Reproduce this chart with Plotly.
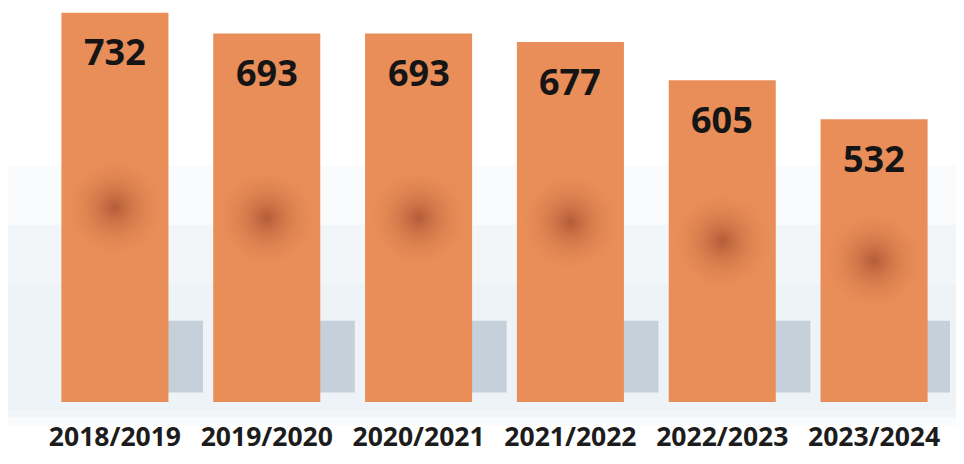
import plotly.graph_objects as go

seasons = ["2018/2019", "2019/2020", "2020/2021", "2021/2022", "2022/2023", "2023/2024"]
counts = [732, 693, 693, 677, 605, 532]

bar_color = "#E98E58"
label_font = dict(family="Open Sans", size=26.5, color="#1c1c1c")

fig = go.Figure()

# soft grey shadows falling behind the bars (to the right)
fig.add_trace(go.Bar(
    x=seasons,
    y=[135] * len(seasons),
    base=[18] * len(seasons),
    width=0.68,
    offset=-0.1,
    marker=dict(color="rgba(140,160,182,0.42)", line=dict(width=0)),
    hoverinfo="skip",
    showlegend=False,
))

fig.add_trace(go.Bar(
    x=seasons,
    y=counts,
    width=0.705,
    marker=dict(color=bar_color, line=dict(width=0)),
    showlegend=False,
))

# dark glow in the middle of each bar
fig.add_trace(go.Scatter(
    x=seasons,
    y=[c / 2 for c in counts],
    mode="markers",
    marker=dict(
        size=107,
        color="rgba(233,142,88,0)",
        gradient=dict(type="radial", color="rgba(145,58,36,0.6)"),
        line=dict(width=0),
    ),
    hoverinfo="skip",
    showlegend=False,
))

for s, c in zip(seasons, counts):
    fig.add_annotation(
        x=s, y=c, text=f"<b>{c}</b>", showarrow=False,
        yanchor="middle", yshift=-39,
        font=dict(family="Open Sans", size=36, color="#151515"),
    )

fig.update_layout(
    width=964,
    height=464,
    margin=dict(l=31, r=22, t=0, b=70),
    paper_bgcolor="white",
    plot_bgcolor="rgba(0,0,0,0)",
    barmode="overlay",
    bargap=0.295,
    xaxis=dict(
        range=[-0.5, 5.5],
        tickmode="array",
        tickvals=seasons,
        ticktext=[f"<b>{s}</b>" for s in seasons],
        tickfont=label_font,
        ticklabelstandoff=16,
        showgrid=False,
        showline=False,
        zeroline=False,
        ticks="",
    ),
    yaxis=dict(
        range=[0, 741],
        visible=False,
        showgrid=False,
        zeroline=False,
    ),
    shapes=[
        dict(type="rect", xref="paper", yref="paper", x0=-0.05, x1=1.03, y0=-0.06, y1=0.6,
             fillcolor="rgba(232,237,243,0.2)", line=dict(width=0), layer="below"),
        dict(type="rect", xref="paper", yref="paper", x0=-0.05, x1=1.03, y0=-0.04, y1=0.45,
             fillcolor="rgba(230,236,242,0.3)", line=dict(width=0), layer="below"),
        dict(type="rect", xref="paper", yref="paper", x0=-0.05, x1=1.03, y0=-0.02, y1=0.3,
             fillcolor="rgba(228,234,241,0.3)", line=dict(width=0), layer="below"),
    ],
)

fig.write_html("out.html")
